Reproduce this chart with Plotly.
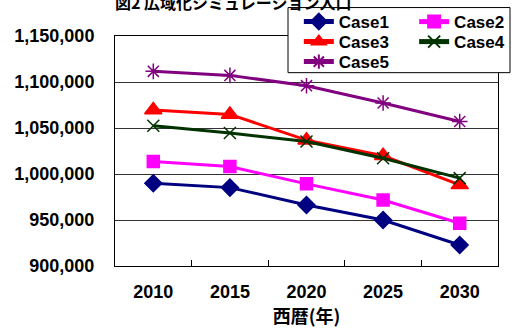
import plotly.graph_objects as go

years = ["2010", "2015", "2020", "2025", "2030"]
case1 = [990000, 985200, 966400, 950000, 922800]
case2 = [1013600, 1008100, 989300, 971800, 946500]
case3 = [1069500, 1064800, 1036800, 1019800, 988200]
case4 = [1052400, 1044500, 1035300, 1017200, 995500]
case5 = [1111600, 1107200, 1096000, 1077200, 1057100]
names = ["Case1", "Case2", "Case3", "Case4", "Case5"]

FONT = "Liberation Sans, Arial, Noto Sans CJK JP, sans-serif"
BOLD = dict(family=FONT, size=17, color="black", weight="bold")
TICKF = dict(family=FONT, size=18, color="black", weight="bold")

series = [
    (names[0], case1, "#000080", "diamond", 13),
    (names[1], case2, "#FF00FF", "square", 12),
    (names[2], case3, "#FF0000", "triangle-up", 15),
    (names[3], case4, "#003300", "x-thin-open", 12),
    (names[4], case5, "#800080", "asterisk-open", 13),
]
# legend slot (left fraction, top fraction) for each case
legend_pos = [(0.48, 1.139), (0.781, 1.139), (0.48, 1.052), (0.781, 1.052), (0.48, 0.965)]

fig = go.Figure()
legend_layout = {}
for i, (name, vals, col, sym, sz) in enumerate(series):
    key = "legend" if i == 0 else f"legend{i + 1}"
    fig.add_trace(go.Scatter(
        x=years, y=vals, name=name, mode="lines+markers",
        line=dict(color=col, width=3),
        marker=dict(symbol=sym, size=sz, color=col, line=dict(color=col, width=1.5)),
        legend=key,
    ))
    lx, ly = legend_pos[i]
    legend_layout[key] = dict(x=lx, y=ly, xanchor="left", yanchor="top",
                              bgcolor="rgba(0,0,0,0)", borderwidth=0,
                              font=BOLD, itemsizing="constant")

fig.update_layout(
    width=515, height=329,
    margin=dict(l=115, r=17, t=36, b=63, autoexpand=False),
    paper_bgcolor="white", plot_bgcolor="white",
    font=BOLD,
    showlegend=True,
    shapes=[dict(type="rect", xref="paper", yref="paper",
                 x0=(288 - 115) / 383, x1=(510 - 115) / 383,
                 y0=(266 - 73) / 229.6, y1=(266 - 8) / 229.6,
                 line=dict(color="black", width=1), fillcolor="white", layer="above")],
    annotations=[dict(text="図2 広域化シミュレーション人口", xref="paper", yref="paper",
                      x=(233 - 115) / 383, y=1, xanchor="center", yanchor="bottom",
                      yshift=20, showarrow=False,
                      font=dict(size=16, family="Noto Sans CJK JP", color="black", weight="bold"))],
    **legend_layout,
)

fig.update_xaxes(
    type="category", range=[-0.5, 4.5],
    showline=True, linecolor="black", linewidth=1, mirror=True,
    ticks="inside", tickson="boundaries", ticklen=6, tickcolor="black",
    showgrid=False, ticklabelstandoff=9,
    tickfont=TICKF,
    title=dict(text="西暦(年)", standoff=6,
               font=dict(size=18, family="Noto Sans CJK JP", color="black", weight="bold")),
)
fig.update_yaxes(
    range=[900000, 1150000], dtick=50000, tickformat=",d",
    showline=True, linecolor="black", linewidth=1, mirror=True,
    showgrid=True, gridcolor="#333333", gridwidth=1,
    ticks="", ticklabelstandoff=16, zeroline=False,
    tickfont=TICKF,
)

fig.write_html("out.html", config={"displayModeBar": False},
               post_script="document.body.style.margin='0';document.body.style.overflow='hidden';")
